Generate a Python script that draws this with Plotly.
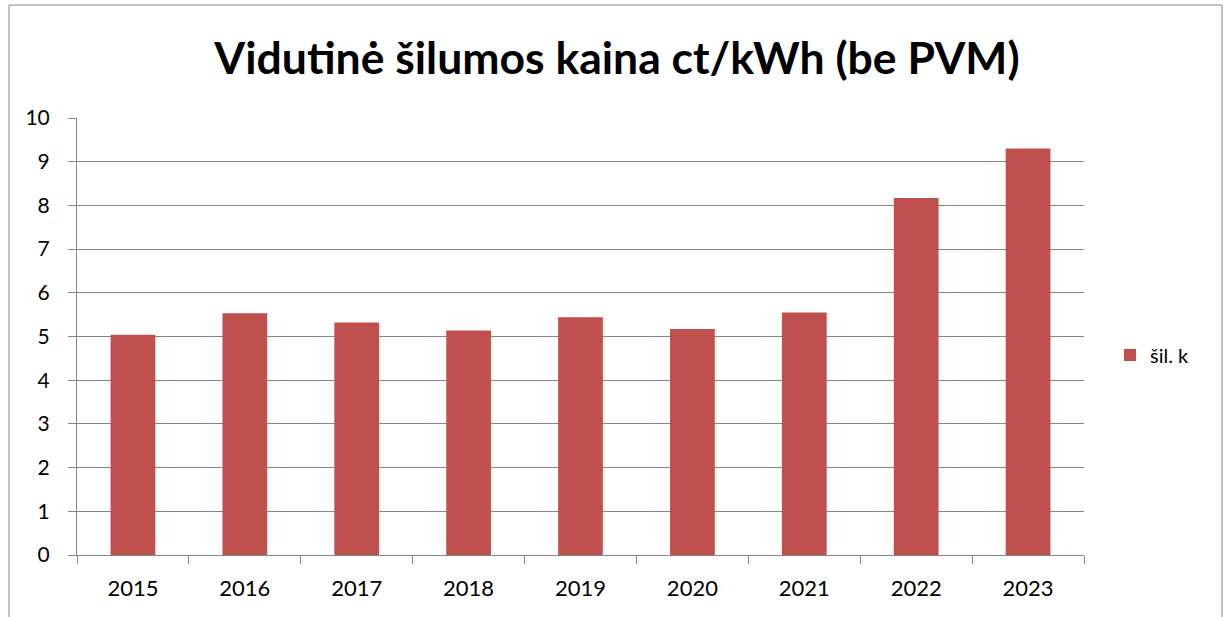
import plotly.graph_objects as go

years = ["2015", "2016", "2017", "2018", "2019", "2020", "2021", "2022", "2023"]
prices = [5.04, 5.53, 5.32, 5.14, 5.44, 5.17, 5.55, 8.17, 9.30]
series_name = "šil. k"
title_text = "Vidutinė šilumos kaina ct/kWh (be PVM)"

W, H = 1227, 617
L, R, T, B = 77, 1084, 118, 555
pw, ph = R - L, B - T

def px(x):
    return (x - L) / pw

def py(y):
    return (B - y) / ph

grid = "#868686"
font = "Lato, 'Open Sans', sans-serif"

fig = go.Figure()
fig.add_trace(go.Bar(
    x=years, y=prices, name=series_name,
    marker=dict(color="#C0504D", line=dict(width=0)),
    width=0.4,
))

fig.update_layout(
    width=W, height=H,
    margin=dict(l=L, r=W - R, t=T, b=H - B, autoexpand=False),
    paper_bgcolor="white", plot_bgcolor="white",
    font=dict(family=font, color="black", size=21),
    title=dict(text="<b>" + title_text + "</b>", x=617 / W, xanchor="center",
               y=1 - 58 / H, yanchor="middle",
               font=dict(family=font, size=44.5, color="black")),
    showlegend=True,
    legend=dict(x=px(1110), y=py(355), xanchor="left", yanchor="middle",
                font=dict(size=20, family=font), bgcolor="rgba(0,0,0,0)",
                itemwidth=30),
    bargap=0.6,
)
fig.update_xaxes(
    type="category", showline=True, linecolor=grid, linewidth=1,
    ticks="outside", tickson="boundaries", ticklen=8, tickcolor=grid,
    showgrid=False, tickfont=dict(size=22), ticklabelstandoff=14,
)
fig.update_yaxes(
    range=[0, 10], dtick=1, showline=True, linecolor=grid, linewidth=1,
    ticks="outside", ticklen=8, tickcolor=grid, showgrid=True,
    gridcolor=grid, gridwidth=1.2, tickfont=dict(size=21), zeroline=False,
    ticklabelstandoff=14,
)
fig.add_shape(type="rect", xref="paper", yref="paper",
              x0=px(9), x1=px(1222), y0=py(640), y1=py(5),
              line=dict(color=grid, width=1), fillcolor="rgba(0,0,0,0)",
              layer="below")

fig.write_html("out.html", config={"displayModeBar": False},
               post_script="document.body.style.margin='0';")
